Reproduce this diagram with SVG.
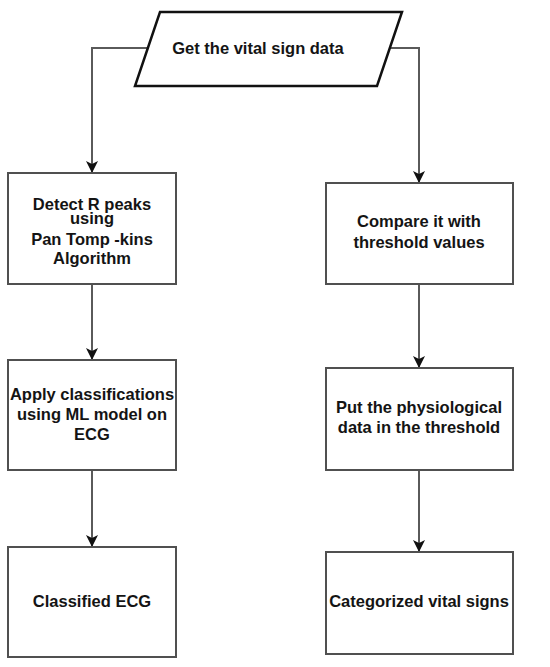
<svg xmlns="http://www.w3.org/2000/svg" width="550" height="667" viewBox="0 0 550 667">
<defs>
<style>
.box{fill:#fff;stroke:#505050;stroke-width:2}
.io{fill:#fff;stroke:#111;stroke-width:2.5}
.t{font-family:"Liberation Sans",Arial,sans-serif;font-weight:bold;font-size:16.5px;fill:#141414;text-anchor:middle}
.c{fill:none;stroke:#5a5a5a;stroke-width:2}
</style>
<marker id="ah" viewBox="0 0 12 12" refX="11" refY="6" markerWidth="12" markerHeight="12" markerUnits="userSpaceOnUse" orient="auto">
<path d="M0,0 L12,6 L0,12 L3,6 Z" fill="#111"/>
</marker>
</defs>
<rect width="550" height="667" fill="#fff"/>
<g id="connectors">
<path class="c" d="M148,48 H92 V172" marker-end="url(#ah)"/>
<path class="c" d="M390,48 H419 V182" marker-end="url(#ah)"/>
<path class="c" d="M92,284 V359" marker-end="url(#ah)"/>
<path class="c" d="M419,284 V367" marker-end="url(#ah)"/>
<path class="c" d="M92,470 V546" marker-end="url(#ah)"/>
<path class="c" d="M419,470 V551" marker-end="url(#ah)"/>
</g>
<g id="start">
<polygon class="io" points="160,12 402,12 377,86 135,86"/>
<text class="t" x="258" y="54">Get the vital sign data</text>
</g>
<g id="detect">
<rect class="box" x="8" y="173" width="168" height="111"/>
<text class="t" x="92" y="210">Detect R peaks</text>
<text class="t" x="92" y="224">using</text>
<text class="t" x="92" y="245">Pan Tomp -kins</text>
<text class="t" x="92" y="264">Algorithm</text>
</g>
<g id="compare">
<rect class="box" x="326" y="183" width="187" height="101"/>
<text class="t" x="419" y="227">Compare it with</text>
<text class="t" x="419" y="248">threshold values</text>
</g>
<g id="apply">
<rect class="box" x="8" y="360" width="168" height="110"/>
<text class="t" x="92" y="400">Apply classifications</text>
<text class="t" x="92" y="420">using ML model on</text>
<text class="t" x="92" y="440">ECG</text>
</g>
<g id="put">
<rect class="box" x="326" y="368" width="187" height="102"/>
<text class="t" x="419" y="413">Put the physiological</text>
<text class="t" x="419" y="433">data in the threshold</text>
</g>
<g id="classified">
<rect class="box" x="8" y="547" width="168" height="110"/>
<text class="t" x="92" y="607">Classified ECG</text>
</g>
<g id="categorized">
<rect class="box" x="326" y="552" width="187" height="102"/>
<text class="t" x="419" y="607">Categorized vital signs</text>
</g>
</svg>
